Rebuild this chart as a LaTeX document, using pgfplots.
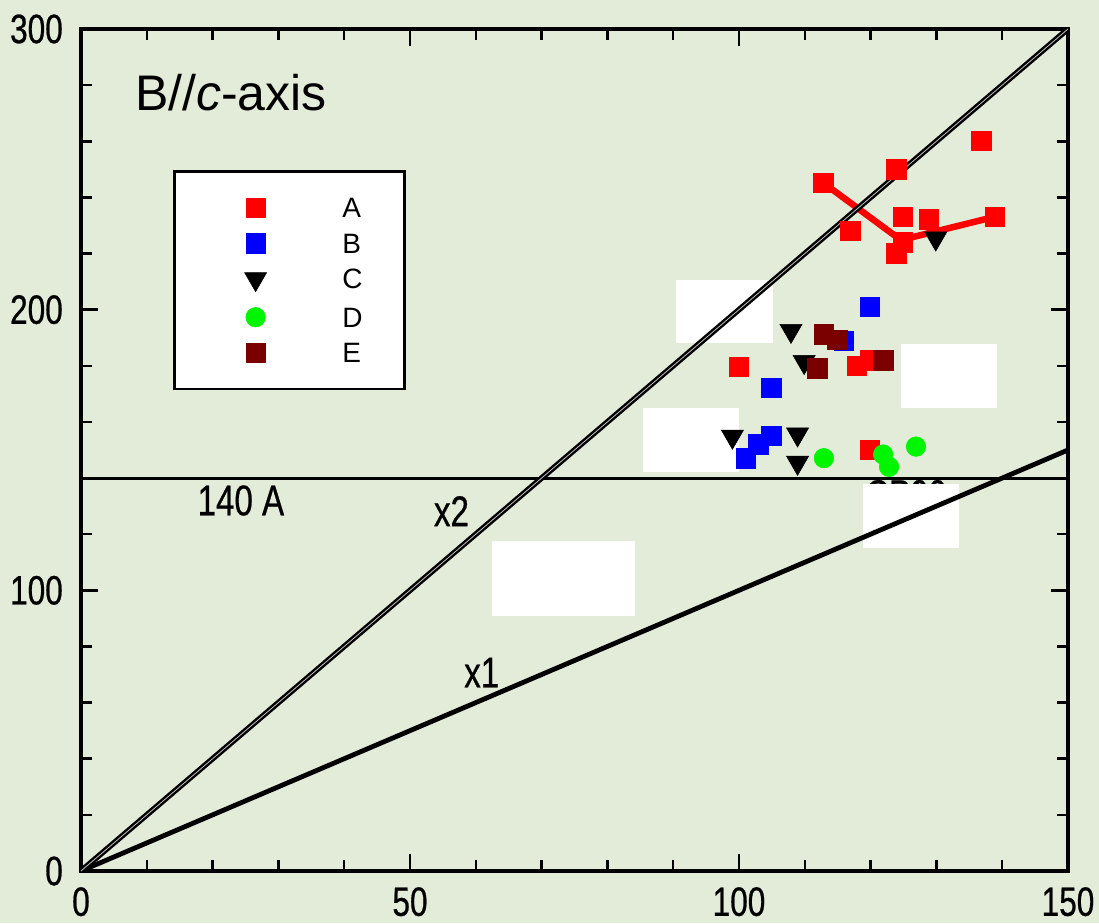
\documentclass[border=0pt]{standalone}
\usepackage{fontspec}
\setmainfont{Liberation Sans}
\newfontfamily\cond[FakeStretch=0.77,FakeBold=0.6]{Liberation Sans}
\usepackage{pgfplots}
\pgfplotsset{compat=1.18}
\definecolor{bg}{RGB}{226,236,217}
\definecolor{dred}{RGB}{122,0,0}
\definecolor{mgreen}{RGB}{0,245,0}
\begin{document}
\begin{tikzpicture}
\fill[bg] (0,0) rectangle (1099pt,923pt);
\begin{axis}[
  at={(81pt,52pt)}, anchor=south west,
  scale only axis, width=987pt, height=842pt,
  xmin=0, xmax=150, ymin=0, ymax=300,
  xtick={0,50,100,150}, ytick={0,100,200,300},
  minor x tick num=4, minor y tick num=4,
  tick align=inside, tick pos=both,
  major tick length=17pt, minor tick length=11pt,
  tick style={black, line width=2.5pt},
  axis line style={line width=4pt},
  /pgf/number format/assume math mode=true,
  ticklabel style={font=\cond\fontsize{41}{41}\selectfont, inner sep=0pt},
  xticklabel style={anchor=north, yshift=-16pt},
  yticklabel style={anchor=east, xshift=-18pt},
  legend style={at={(axis cs:14,249.7)}, anchor=north west, draw=black, line width=2.5pt, fill=white,
    inner xsep=42pt, inner ysep=26.5pt, font=\fontsize{28}{28}\selectfont, row sep=15.5pt,
    nodes={inner sep=0pt, text height=20pt, text depth=0pt},
    /tikz/every odd column/.append style={column sep=75pt}},
  legend cell align=left,
  legend image code/.code={\path (-38pt,0pt) (10.5pt,0pt); \draw[#1] plot coordinates {(0pt,0pt)};},
]
% A
\addplot[only marks, mark=square*, color=red, mark size=9.7pt, mark options={line width=0.5pt}] coordinates {
(112.8,245.2) (123.9,250.0) (136.8,260.2) (116.9,228.1) (124.9,233.1) (128.8,232.2) (138.9,233.1)
(124.9,224.0) (123.9,220.1) (100.0,179.7) (117.9,180.0) (119.9,182.0) (119.9,150.0)};
\addlegendentry{A}
\addplot[red, line width=6.5pt, line join=round, forget plot] coordinates {(112.8,245.2) (124.6,224.8) (138.9,233.1)};
% B
\addplot[only marks, mark=square*, color=blue, mark size=9.7pt, mark options={line width=0.5pt}] coordinates {
(119.9,201.0) (115.9,188.9) (104.9,172.1) (104.9,155.1) (102.9,152.1) (101.0,147.0)};
\addlegendentry{B}
% C
\addplot[only marks, mark=triangle*, color=black, mark size=12.8pt, mark options={rotate=180, line width=0.5pt}] coordinates {
(129.9,225.4) (107.9,192.5) (109.9,181.4) (108.9,155.6) (108.9,145.5) (99.0,154.8)};
\addlegendentry{C}
% D
\addplot[only marks, mark=*, color=mgreen, mark size=9.8pt, mark options={line width=0.5pt}] coordinates {
(112.9,147.1) (121.9,148.4) (122.8,144.0) (126.9,151.2)};
\addlegendentry{D}
% E
\addplot[only marks, mark=square*, color=dred, mark size=9.7pt, mark options={line width=0.5pt}] coordinates {
(112.9,191.2) (114.9,189.2) (111.9,179.1) (121.9,182.0)};
\addlegendentry{E}
% hidden label
\node[font=\cond\fontsize{42}{42}\selectfont, anchor=north, inner sep=0pt] at (axis cs:125.4,139.4) {CP90};
% white boxes
\fill[white] (axis cs:90.5,188.0) rectangle (axis cs:105.2,210.5);
\fill[white] (axis cs:85.4,142.3) rectangle (axis cs:100.0,165.0);
\fill[white] (axis cs:124.6,165.1) rectangle (axis cs:139.2,187.7);
\fill[white] (axis cs:118.8,115.2) rectangle (axis cs:133.4,137.9);
\fill[white] (axis cs:62.5,90.9) rectangle (axis cs:84.2,117.5);
% lines
\addplot[black, line width=3pt, forget plot] coordinates {(0,140) (150,140)};
\addplot[black, line width=4.8pt, forget plot] coordinates {(0,0) (150,150)};
\addplot[draw=black, double=black!25, double distance=0.8pt, line width=2.4pt, forget plot] coordinates {(0,0) (150,300)};
% labels
\node[anchor=base west, inner sep=0pt, font=\fontsize{50}{50}\selectfont] at (axis cs:8.2,271.1) {B//\textit{c}-axis};
\node[font=\cond\fontsize{43}{43}\selectfont, inner sep=0pt] at (axis cs:24.3,132.0) {140 A};
\node[font=\cond\fontsize{43}{43}\selectfont, inner sep=0pt] at (axis cs:56.3,128.2) {x2};
\node[font=\cond\fontsize{43}{43}\selectfont, inner sep=0pt] at (axis cs:60.9,70.7) {x1};
\end{axis}
\pgfresetboundingbox
\useasboundingbox (0,0) rectangle (1099pt,923pt);
\end{tikzpicture}
\end{document}
